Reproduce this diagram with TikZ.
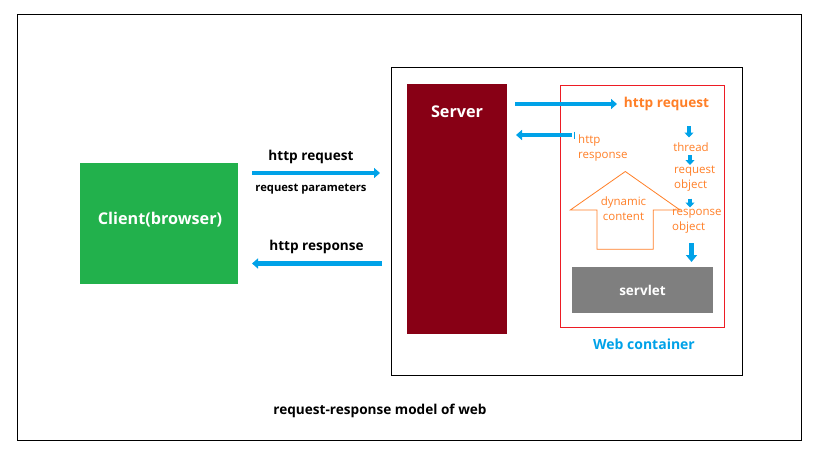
\documentclass[tikz,border=0pt]{standalone}
\usepackage{fontspec}
\setmainfont{Open Sans}
\usetikzlibrary{arrows.meta}
\definecolor{cblue}{HTML}{00A2E8}
\definecolor{corange}{HTML}{FF7F27}
\definecolor{cgreen}{HTML}{22B14C}
\definecolor{cdarkred}{HTML}{880015}
\definecolor{cred}{HTML}{ED1C24}
\definecolor{cgray}{HTML}{7F7F7F}
\tikzset{
  box/.style={anchor=north west, inner sep=0pt, outer sep=0pt},
  frame/.style={box, draw=black, line width=1pt},
  flow/.style={draw=cblue, line width=4.5pt, -{Triangle[length=6pt,width=10pt]}},
  downarrow/.style={draw=cblue, line width=4pt, -{Triangle[length=5pt,width=9pt]}},
  bigdown/.style={draw=cblue, line width=5pt, -{Triangle[length=7pt,width=11pt]}},
  blacklbl/.style={font=\fontsize{13.6}{15}\selectfont\bfseries, text=black, inner sep=0pt},
  smalllbl/.style={font=\fontsize{11.2}{13}\selectfont\bfseries, text=black, inner sep=0pt},
  orlbl/.style={font=\fontsize{11.5}{15}\selectfont, text=corange, inner sep=0pt, align=left},
}
\begin{document}
\begin{tikzpicture}[x=1pt,y=-1pt]
\path[use as bounding box] (0,0) rectangle (819,460);
\fill[white] (0,0) rectangle (819,460);
% frames
\node[frame, minimum width=784pt, minimum height=425pt] (outer) at (17,15) {};
\node[frame, minimum width=351pt, minimum height=307pt] (serverframe) at (391,68) {};
% client
\node[box, fill=cgreen, minimum width=158pt, minimum height=121pt] (client) at (80,163) {};
\node[font=\fontsize{16.2}{18}\selectfont\bfseries, text=white] (clienttxt) at (160,220) {Client(browser)};
% server
\node[box, fill=cdarkred, minimum width=100pt, minimum height=250pt] (server) at (407,84) {};
\node[font=\fontsize{16.2}{18}\selectfont\bfseries, text=white] (servertxt) at (457,112) {Server};
% web container
\node[box, draw=cred, line width=0.8pt, minimum width=164pt, minimum height=242pt] (container) at (560,85) {};
\node[font=\fontsize{14}{16}\selectfont\bfseries, text=cblue] (containertxt) at (644,344) {Web container};
% servlet
\node[box, fill=cgray, minimum width=141pt, minimum height=46pt] (servlet) at (572,267) {};
\node[font=\fontsize{13.5}{16}\selectfont\bfseries, text=white] (servlettxt) at (642.5,290.5) {servlet};
% left arrows
\coordinate (reqA) at (252,173);
\coordinate (reqB) at (380,173);
\draw[flow] (reqA) -- (reqB);
\node[blacklbl] (reqlbl) at (311,157) {http request};
\node[smalllbl] (reqpar) at (311,189) {request parameters};
\coordinate (resA) at (382,263.5);
\coordinate (resB) at (252,263.5);
\draw[flow] (resA) -- (resB);
\node[blacklbl] (reslbl) at (316.5,247) {http response};
% server to container
\coordinate (sreqA) at (515,104);
\coordinate (sreqB) at (617,104);
\draw[flow] (sreqA) -- (sreqB);
\node[font=\fontsize{13.6}{16}\selectfont\bfseries, text=corange, inner sep=0pt] (sreqlbl) at (666.5,104) {http request};
\coordinate (sresA) at (572,135);
\coordinate (sresB) at (516,135);
\draw[flow] (sresA) -- (sresB);
\coordinate (tickA) at (574.5,131.5);
\coordinate (tickB) at (574.5,139);
\draw[cblue, line width=1.8pt] (tickA) -- (tickB);
\node[orlbl, anchor=west] (sreslbl) at (578,148.5) {http\\response};
% chain of down arrows
\coordinate (d1a) at (689,126);
\coordinate (d1b) at (689,137.5);
\draw[downarrow] (d1a) -- (d1b);
\node[orlbl] (thread) at (691,147) {thread};
\coordinate (d2a) at (690,155);
\coordinate (d2b) at (690,165);
\draw[downarrow] (d2a) -- (d2b);
\node[orlbl, anchor=west] (reqobj) at (674,178.7) {request\\object};
\coordinate (d3a) at (690,198.5);
\coordinate (d3b) at (690,207.5);
\draw[downarrow] (d3a) -- (d3b);
\node[orlbl, anchor=west] (resobj) at (672,221.5) {response\\object};
\coordinate (d4a) at (691.5,243);
\coordinate (d4b) at (691.5,262);
\draw[bigdown] (d4a) -- (d4b);
% dynamic content up arrow
\draw[corange, line width=0.8pt, line join=miter]
  (625.3,171.5) -- (680,210) -- (653.3,210) -- (653.3,249.3)
  -- (597,249.3) -- (597,210) -- (570.3,210) -- cycle;
\node[orlbl, align=center] (dyn) at (623.5,208.3) {dynamic\\content};
% caption
\node[font=\fontsize{13.6}{15}\selectfont\bfseries, text=black] (caption) at (380,411) {request-response model of web};
\end{tikzpicture}
\end{document}
